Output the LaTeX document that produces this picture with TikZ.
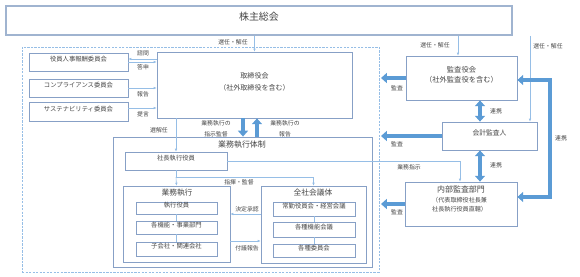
\documentclass[tikz,border=0pt]{standalone}
\usepackage{fontspec}
\setmainfont{Noto Sans CJK JP}
\usetikzlibrary{arrows.meta,fit,calc}
\definecolor{boxc}{RGB}{135,160,198}
\definecolor{linec}{RGB}{150,190,230}
\definecolor{bigc}{RGB}{91,155,213}
\definecolor{txtc}{RGB}{70,70,70}
\definecolor{shc}{RGB}{160,180,208}
\begin{document}
\begin{tikzpicture}[x=0.03cm,y=-0.03cm,
 box/.style={draw=boxc, line width=0.6pt, fill=white, inner sep=0pt, align=center, text=txtc},
 conn/.style={draw=linec, line width=0.5pt, -{Latex[length=2.5pt,width=2.2pt]}},
 plain/.style={draw=linec, line width=0.5pt},
 lbl/.style={text=txtc, font=\fontsize{5}{6}\selectfont, inner sep=0pt, align=center},
 bigarr/.style={draw=bigc, line width=3.4pt, -{Triangle[length=5pt,width=8.5pt]}},
 bigdbl/.style={draw=bigc, line width=3.4pt, {Triangle[length=5pt,width=8.5pt]}-{Triangle[length=5pt,width=8.5pt]}},
 boxfont/.style={font=\fontsize{5.4}{6.5}\selectfont}
]
\useasboundingbox (0,0) rectangle (580,277);

% shareholders
\node[box, draw=shc, line width=1.5pt, fit={(6,6)(512,35)}, font=\fontsize{8.5}{10}\selectfont] (sh) {株主総会};

% dashed outer frame
\node[draw=linec, dash pattern=on 2pt off 1pt, line width=0.6pt, inner sep=0pt, fit={(22,47)(379,272)}] (outer) {};

% committees
\node[box, boxfont, fit={(29,53)(128,71)}] (c1) {役員人事報酬委員会};
\node[box, boxfont, fit={(29,79)(128,97)}] (c2) {コンプライアンス委員会};
\node[box, boxfont, fit={(29,102)(128,121)}] (c3) {サステナビリティ委員会};

% board
\node[box, fit={(157,52)(352,118)}, font=\fontsize{6}{10}\selectfont] (bod) {取締役会\\（社外取締役を含む）};

% execution frame
\node[box, line width=0.7pt, fit={(113,137)(372,267)}] (exe) {};
\node[lbl, font=\fontsize{6.8}{8}\selectfont] (exet) at (242,145) {業務執行体制};
\node[box, boxfont, fit={(125,152)(227,170)}] (ceo) {社長執行役員};

\node[box, fit={(123,186)(230,262)}] (gyo) {};
\node[lbl, font=\fontsize{6.6}{8}\selectfont] (gyot) at (177,193) {業務執行};
\node[box, boxfont, fit={(136,202)(217,214)}] (g1) {執行役員};
\node[box, boxfont, fit={(136,221)(217,234)}] (g2) {各機能・事業部門};
\node[box, boxfont, fit={(136,242)(217,256)}] (g3) {子会社・関連会社};

\node[box, fit={(261,186)(366,263)}] (zen) {};
\node[lbl, font=\fontsize{6.6}{8}\selectfont] (zent) at (313,193) {全社会議体};
\node[box, boxfont, fit={(273,202)(355,216)}] (z1) {常勤役員会・経営会議};
\node[box, boxfont, fit={(273,222)(355,237)}] (z2) {各種機能会議};
\node[box, boxfont, fit={(273,244)(355,257)}] (z3) {各種委員会};

% audit side
\node[box, fit={(406,56)(517,100)}, font=\fontsize{6.2}{9}\selectfont] (kan) {監査役会\\（社外監査役を含む）};
\node[box, fit={(442,122)(537,150)}, font=\fontsize{5.8}{7}\selectfont] (kai) {会計監査人};
\node[box, fit={(405,182)(517,226)}] (nai) {};
\node[lbl, font=\fontsize{6.8}{8}\selectfont] (nait) at (461,189) {内部監査部門};
\node[lbl, anchor=west, align=left, font=\fontsize{5.2}{7.6}\selectfont] (naisub) at (432,204.5) {（代表取締役社長兼\\社長執行役員直轄）};

% appointment lines from shareholders
\draw[conn] (bod.north |- sh.south) -- (bod.north);
\draw[conn] (458,0 |- sh.south) -- (458,0 |- kan.north);
\draw[conn] (530,0 |- sh.south) -- (530,0 |- kai.north);
\node[lbl] (l1) at (233,42) {選任・解任};
\node[lbl] (l2) at (435,45) {選任・解任};
\node[lbl] (l3) at (548,46) {選任・解任};

% committees <-> board
\draw[conn] (bod.west |- 0,59) -- (c1.east |- 0,59);
\draw[conn] (c1.east |- 0,62) -- (bod.west |- 0,62);
\draw[conn] (c2.east |- 0,88) -- (bod.west |- 0,88);
\draw[conn] (c3.east |- 0,108) -- (bod.west |- 0,108);
\node[lbl] (l4) at (143,53) {諮問};
\node[lbl] (l5) at (143,67) {答申};
\node[lbl] (l6) at (143,94) {報告};
\node[lbl] (l7) at (143,114) {提言};

% board -> CEO
\draw[conn] (ceo.north |- bod.south) -- (ceo.north);
\node[lbl] (l8) at (159,130) {選解任};

% big arrows board <-> execution
\draw[bigarr] (243,0 |- bod.south) -- (243,0 |- exe.north);
\draw[bigarr] (257,0 |- exe.north) -- (257,0 |- bod.south);
\node[lbl, font=\fontsize{5}{9.4}\selectfont] (l9) at (216,129) {業務執行の\\指示監督};
\node[lbl, font=\fontsize{5}{9.4}\selectfont] (l10) at (285,129) {業務執行の\\報告};

% CEO -> internal audit
\draw[conn] (ceo.east) -- (ceo.east -| 460,0) -- (460,0 |- nai.north);
\node[lbl] (l11) at (409,167) {業務指示};

% CEO -> execution / meetings
\draw[plain] (ceo.south) -- (ceo.south |- 0,177) coordinate (j1);
\draw[conn] (j1) -- (gyo.north);
\draw[conn] (j1) -| (zen.north);
\node[lbl] (l12) at (239,182) {指揮・監督};

% inner chains
\draw[plain] (g1) -- (g2);
\draw[plain] (g2) -- (g3);
\draw[plain] (z1) -- (z2);
\draw[plain] (z2) -- (z3);

% decisions / reports
\draw[conn] (zen.west |- 0,214) -- (gyo.east |- 0,214);
\draw[conn] (gyo.east |- 0,241) -- (zen.west |- 0,241);
\node[lbl] (l13) at (247,209) {決定承認};
\node[lbl] (l14) at (247,248) {付議報告};

% audit arrows
\draw[bigarr] (kan.west) -- (kan.west -| 381,0);
\draw[bigarr] (kai.west) -- (kai.west -| 381,0);
\draw[bigarr] (nai.west) -- (nai.west -| 381,0);
\node[lbl] (l15) at (397,88) {監査};
\node[lbl] (l16) at (397,144) {監査};
\node[lbl] (l17) at (397,212) {監査};

% cooperation
\draw[bigdbl] (480,0 |- kan.south) -- (480,0 |- kai.north);
\draw[bigdbl] (480,0 |- kai.south) -- (480,0 |- nai.north);
\draw[bigdbl, line join=miter] (kan.east |- 0,80) -- (550,80) -- (550,197) -- (nai.east |- 0,197);
\node[lbl] (l18) at (496,111) {連携};
\node[lbl] (l19) at (496,165) {連携};
\node[lbl] (l20) at (561,138) {連携};
\end{tikzpicture}
\end{document}
